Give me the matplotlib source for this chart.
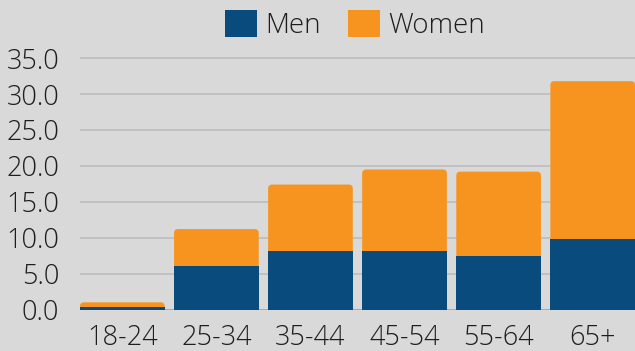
import matplotlib
matplotlib.use("Agg")

import matplotlib.pyplot as plt
from matplotlib.patches import FancyBboxPatch, Patch

# Age groups and values (percent)
age_groups = ["18-24", "25-34", "35-44", "45-54", "55-64", "65+"]
men = [0.4, 6.0, 8.2, 8.2, 7.4, 9.8]
women = [0.6, 5.2, 9.2, 11.3, 11.8, 22.0]
y_ticks = [0, 5, 10, 15, 20, 25, 30, 35]

MEN_COLOR = "#094b7d"
WOMEN_COLOR = "#f7941f"
BG = "#d9d9d9"
GRID = "#bdbdbd"
TEXT = "#1e1e1e"

plt.rcParams["font.family"] = ["Open Sans", "DejaVu Sans"]
plt.rcParams["font.weight"] = "light"

fig = plt.figure(figsize=(6.35, 3.51), dpi=100, facecolor=BG)
ax = fig.add_axes([80 / 635, 1 - 309.5 / 351, 1 - 80 / 635, (309.5 - 51) / 351])
ax.set_facecolor(BG)

x = list(range(len(age_groups)))
width = 0.9
totals = [m + w for m, w in zip(men, women)]

ax.set_xlim(-0.45, len(age_groups) - 0.55)
ax.set_ylim(0, 36)

# women segment: drawn full height behind the men segment, top corners rounded
women_bars = ax.bar(x, totals, width=width, color=WOMEN_COLOR, zorder=2)
ax.bar(x, men, width=width, color=MEN_COLOR, zorder=3)

fig.canvas.draw()
px_per_x = ax.transData.transform((1, 0))[0] - ax.transData.transform((0, 0))[0]
px_per_y = ax.transData.transform((0, 1))[1] - ax.transData.transform((0, 0))[1]
radius_px = 4.0
r = radius_px / px_per_x
aspect = px_per_x / px_per_y

for rect in women_bars:
    rx, ry = rect.get_x(), rect.get_y()
    rw, rh = rect.get_width(), rect.get_height()
    rect.set_visible(False)
    ax.add_patch(FancyBboxPatch(
        (rx, ry), rw, rh,
        boxstyle=f"round,pad=0,rounding_size={r}",
        mutation_aspect=aspect,
        facecolor=WOMEN_COLOR, edgecolor="none", zorder=2,
    ))

ax.set_yticks(y_ticks)
ax.set_yticklabels([f"{v:.1f}" for v in y_ticks])
ax.set_xticks(x)
ax.set_xticklabels(age_groups)
ax.yaxis.grid(True, color=GRID, linewidth=1.2, zorder=0)
ax.set_axisbelow(True)
ax.axhline(0, color="#a8a8a8", linewidth=2, zorder=1)

for side in ax.spines.values():
    side.set_visible(False)
ax.tick_params(axis="both", length=0, labelsize=19.5, labelcolor=TEXT)
ax.tick_params(axis="y", pad=15)
ax.tick_params(axis="x", pad=10.5)

handles = [Patch(facecolor=MEN_COLOR, label="Men"),
           Patch(facecolor=WOMEN_COLOR, label="Women")]
fig.legend(handles=handles, loc="center", bbox_to_anchor=(355 / 635, 1 - 25 / 351),
           ncol=2, frameon=False, fontsize=20, handlelength=1.15, handleheight=1.15,
           handletextpad=0.3, columnspacing=0.95, labelcolor=TEXT)

fig.savefig("out.png", dpi=100, facecolor=BG)
